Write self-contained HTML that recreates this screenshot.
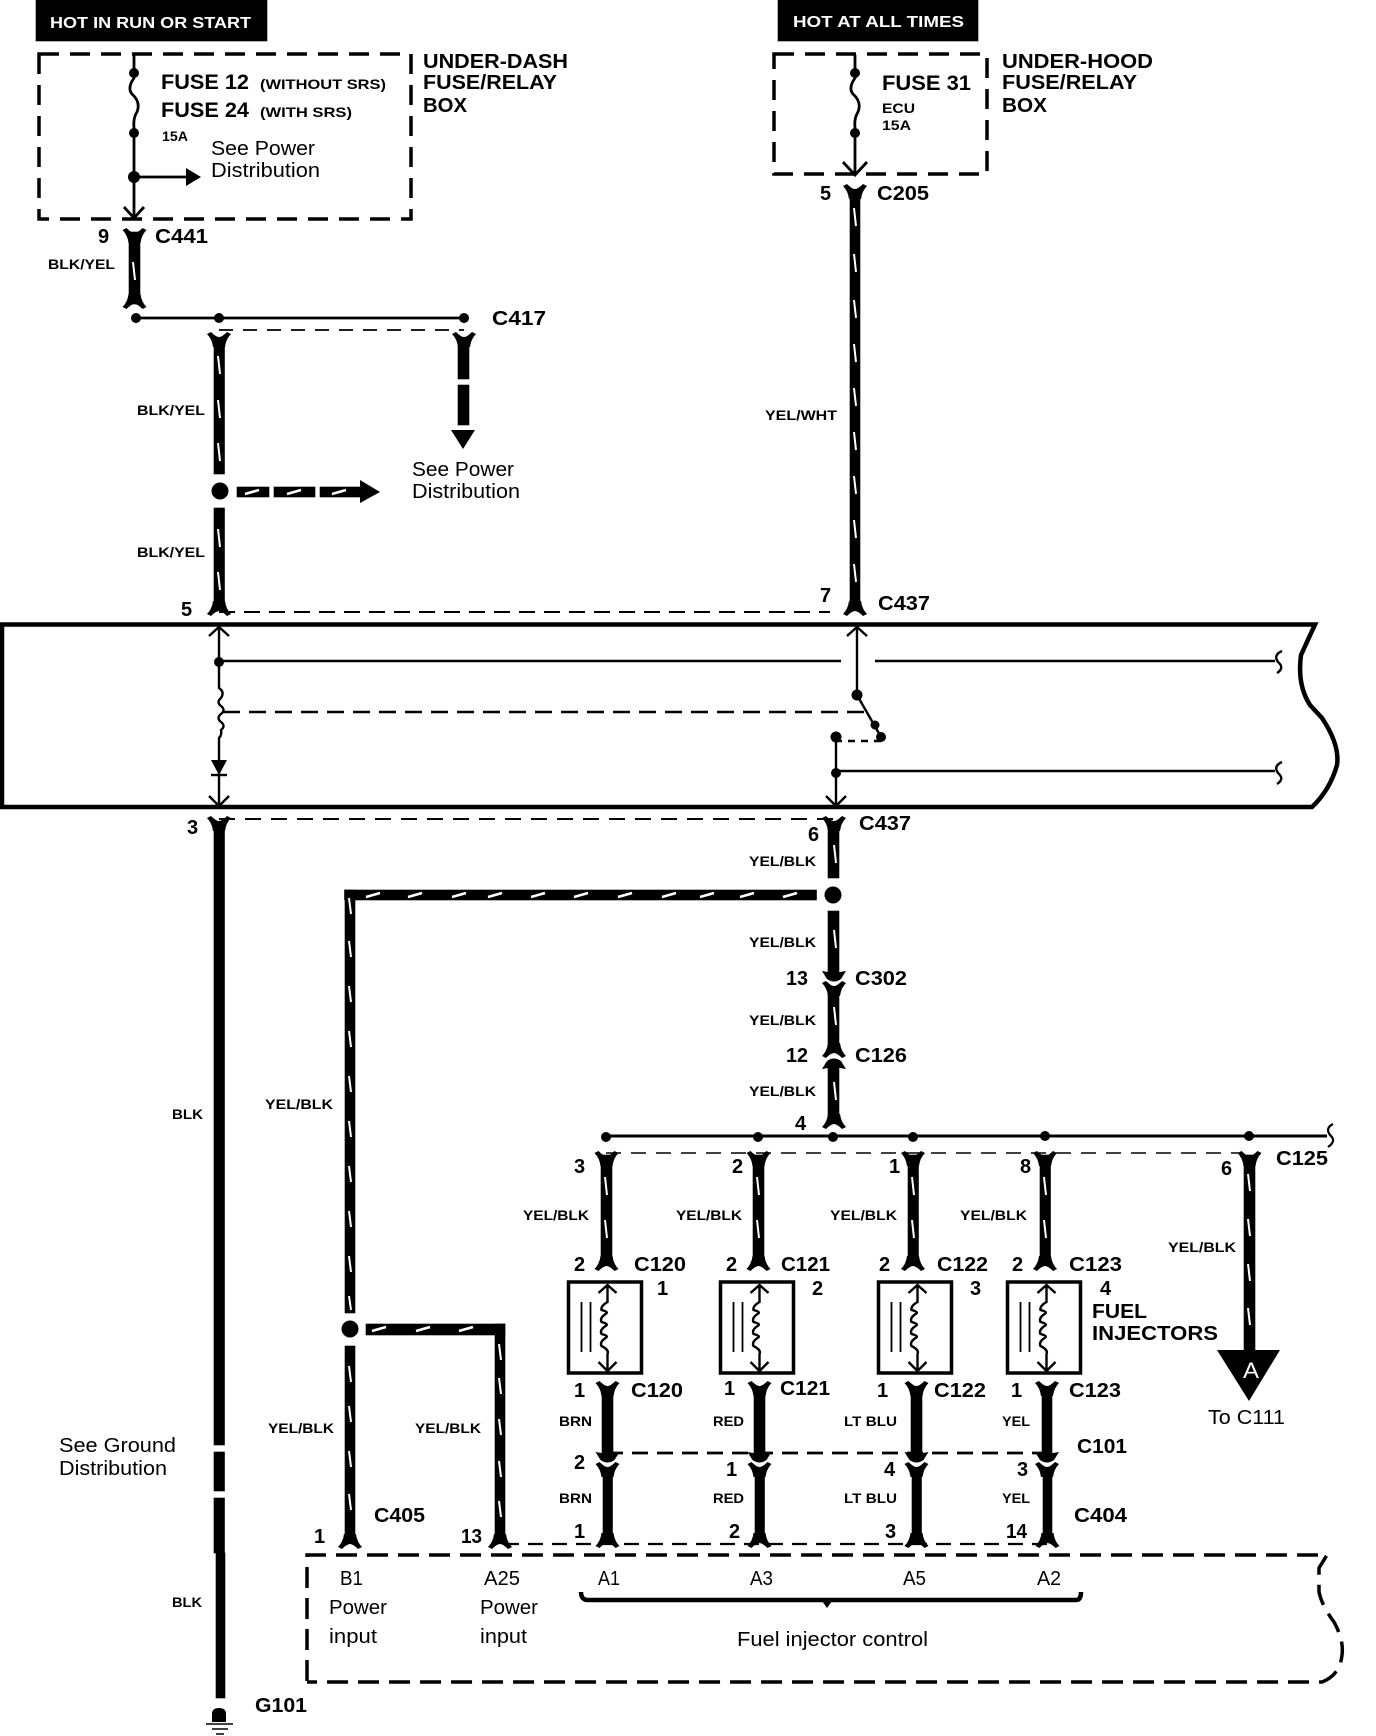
<!DOCTYPE html>
<html>
<head>
<meta charset="utf-8">
<style>
html,body{margin:0;padding:0;background:#fff;width:1376px;height:1736px;overflow:hidden}
svg{display:block}
text{font-family:"Liberation Sans",sans-serif;fill:#000}
rect:not([fill]){stroke:#000;stroke-width:.6}
.c{font-size:20px;font-weight:bold}
.w{font-size:14px;font-weight:bold}
.r{font-size:20px}
.h{font-size:20px;font-weight:bold}
.f{font-size:21px;font-weight:bold}
.s{font-size:14px;font-weight:bold}
.t{font-size:16px;font-weight:bold;fill:#fff}
</style>
</head>
<body>
<svg width="1376" height="1736" viewBox="0 0 1376 1736" xmlns="http://www.w3.org/2000/svg">
<defs>
<path id="ft" d="M-12 -2L-8 -4Q-3 1 0 1Q3 1 8 -4L12 -2Q7 3 6 11L-6 11Q-7 3 -12 -2Z"/>
<path id="fb" d="M-12 2L-8 4Q-3 -1 0 -1Q3 -1 8 4L12 2Q7 -3 6 -11L-6 -11Q-7 -3 -12 2Z"/>
<path id="ad" d="M-12 -4L-6 -3L6 -3L12 -4L7 4Q0 9 -7 4Z"/>
<path id="au" d="M-12 4L-6 3L6 3L12 4L7 -4Q0 -9 -7 -4Z"/>
<g id="inj">
<rect x="-39" y="0" width="73" height="91" fill="#fff" stroke="#000" stroke-width="3.5"/>
<path d="M-26 20V70M-17 20V70" stroke="#000" stroke-width="1.8" fill="none"/>
<path d="M0 3V20Q-7 24 -6 28Q2 30 -2 32Q-8 36 -6 40Q2 42 -2 44Q-8 48 -6 52Q2 54 -2 56Q-8 60 -6 64Q2 68 0 72V89M-9 11L0 3L9 11M-9 80L0 89L9 80" fill="none" stroke="#000" stroke-width="2.4"/>
</g>
</defs>

<!-- header tags -->
<rect x="36" y="0" width="231" height="41"/>
<rect x="778" y="0" width="200" height="41"/>
<text x="50" y="28" class="t" textLength="201" lengthAdjust="spacingAndGlyphs">HOT IN RUN OR START</text>
<text x="793" y="27" class="t" textLength="171" lengthAdjust="spacingAndGlyphs">HOT AT ALL TIMES</text>

<!-- fuse boxes -->
<rect x="39" y="54" width="372" height="165" fill="none" stroke="#000" stroke-width="3.5" stroke-dasharray="20 11"/>
<rect x="774" y="54" width="213" height="120" fill="none" stroke="#000" stroke-width="3.5" stroke-dasharray="20 11"/>
<g fill="none" stroke="#000" stroke-width="2.8">
<path d="M134 55V78Q127 88 132 94Q141 102 137 112Q133 118 134 128V218M124 207L134 218L144 207"/>
<path d="M134 177H188"/>
<path d="M855 55V78Q848 88 853 94Q862 102 858 112Q854 118 855 128V174M843 162L855 175L867 162"/>
</g>
<circle cx="134" cy="73" r="5"/><circle cx="134" cy="133" r="5"/><circle cx="134" cy="177" r="6"/>
<circle cx="855" cy="73" r="5"/><circle cx="855" cy="133" r="5"/>
<path d="M186 168L201 177L186 186Z"/>

<text x="161" y="89" class="f" textLength="88" lengthAdjust="spacingAndGlyphs">FUSE 12</text>
<text x="260" y="89" class="s" textLength="126" lengthAdjust="spacingAndGlyphs">(WITHOUT SRS)</text>
<text x="161" y="117" class="f" textLength="88" lengthAdjust="spacingAndGlyphs">FUSE 24</text>
<text x="260" y="117" class="s" textLength="92" lengthAdjust="spacingAndGlyphs">(WITH SRS)</text>
<text x="162" y="141" class="s" textLength="26" lengthAdjust="spacingAndGlyphs">15A</text>
<text x="211" y="155" class="r" textLength="104" lengthAdjust="spacingAndGlyphs">See Power</text>
<text x="211" y="177" class="r" textLength="109" lengthAdjust="spacingAndGlyphs">Distribution</text>
<text x="423" y="68" class="h" textLength="145" lengthAdjust="spacingAndGlyphs">UNDER-DASH</text>
<text x="423" y="89" class="h" textLength="134" lengthAdjust="spacingAndGlyphs">FUSE/RELAY</text>
<text x="423" y="112" class="h" textLength="44" lengthAdjust="spacingAndGlyphs">BOX</text>

<text x="882" y="90" class="f" textLength="89" lengthAdjust="spacingAndGlyphs">FUSE 31</text>
<text x="882" y="113" class="s" textLength="33" lengthAdjust="spacingAndGlyphs">ECU</text>
<text x="882" y="130" class="s" textLength="29" lengthAdjust="spacingAndGlyphs">15A</text>
<text x="1002" y="68" class="h" textLength="151" lengthAdjust="spacingAndGlyphs">UNDER-HOOD</text>
<text x="1002" y="89" class="h" textLength="135" lengthAdjust="spacingAndGlyphs">FUSE/RELAY</text>
<text x="1002" y="112" class="h" textLength="45" lengthAdjust="spacingAndGlyphs">BOX</text>

<!-- upper wires -->
<rect x="129" y="232" width="11" height="72"/>
<use href="#ft" x="134.5" y="232"/><use href="#fb" x="134.5" y="305"/>
<rect x="850" y="190" width="10" height="420"/>
<use href="#ft" x="855" y="188"/><use href="#fb" x="855" y="612"/>
<path d="M136 318H464" stroke="#000" stroke-width="2.8"/>
<circle cx="136" cy="318" r="5"/><circle cx="219" cy="318" r="5"/><circle cx="464" cy="318" r="5"/>
<path d="M219 330H464" stroke="#000" stroke-width="1.8" stroke-dasharray="14 10" fill="none"/>
<rect x="214" y="338" width="10.5" height="136"/>
<use href="#ft" x="219" y="336"/>
<circle cx="220" cy="491" r="8.5"/>
<rect x="214" y="508" width="10.5" height="100"/>
<use href="#fb" x="219" y="612"/>
<rect x="458" y="338" width="11" height="41"/><rect x="458" y="385" width="11" height="40"/>
<use href="#ft" x="464" y="336"/>
<path d="M451 430H475L463 449Z"/>
<rect x="237" y="487" width="32" height="10"/><rect x="274" y="487" width="41" height="10"/><rect x="320" y="487" width="40" height="10"/>
<path d="M360 480L380 492L360 503Z"/>
<path d="M219 612H830" stroke="#000" stroke-width="2" stroke-dasharray="16 9" fill="none"/>

<text x="98" y="243" class="c">9</text>
<text x="155" y="243" class="c" textLength="53" lengthAdjust="spacingAndGlyphs">C441</text>
<text x="48" y="269" class="w" textLength="67" lengthAdjust="spacingAndGlyphs">BLK/YEL</text>
<text x="492" y="325" class="c" textLength="54" lengthAdjust="spacingAndGlyphs">C417</text>
<text x="137" y="415" class="w" textLength="68" lengthAdjust="spacingAndGlyphs">BLK/YEL</text>
<text x="137" y="557" class="w" textLength="68" lengthAdjust="spacingAndGlyphs">BLK/YEL</text>
<text x="412" y="476" class="r" textLength="102" lengthAdjust="spacingAndGlyphs">See Power</text>
<text x="412" y="498" class="r" textLength="108" lengthAdjust="spacingAndGlyphs">Distribution</text>
<text x="181" y="616" class="c">5</text>
<text x="820" y="200" class="c">5</text>
<text x="877" y="200" class="c" textLength="52" lengthAdjust="spacingAndGlyphs">C205</text>
<text x="765" y="420" class="w" textLength="72" lengthAdjust="spacingAndGlyphs">YEL/WHT</text>
<text x="820" y="602" class="c">7</text>
<text x="878" y="610" class="c" textLength="52" lengthAdjust="spacingAndGlyphs">C437</text>

<!-- ECM main box -->
<path d="M2 624.5H1315L1301 655Q1297 685 1310 705L1322 718Q1340 745 1337 765Q1330 790 1312 807H2Z" fill="none" stroke="#000" stroke-width="4.5"/>
<g fill="none" stroke="#000" stroke-width="2.4">
<path d="M219 627V688Q225 692 221 698Q216 702 221 706Q226 710 221 714Q216 718 221 722Q226 726 221 730Q222 735 219 738V804"/>
<path d="M209 636L219 627L229 636M209 796L219 806L229 796"/>
<path d="M219 661H841M875 661H1275"/>
<path d="M857 627V695L881 737M847 636L857 627L867 636"/>
<path d="M1282 651Q1273 655 1278 662Q1285 668 1277 673"/>
<path d="M1282 762Q1273 766 1278 773Q1285 779 1277 784"/>
<path d="M836 737V804M826 796L836 806L846 796"/>
<path d="M836 771H1275"/>
<path d="M881 741H836" stroke-dasharray="7 6"/>
<path d="M223 712H864" stroke-dasharray="17 9"/>
<path d="M211 775H227"/>
</g>
<path d="M211 760H227L219 775Z"/>
<circle cx="219" cy="662" r="5"/><circle cx="857" cy="695" r="5.5"/><circle cx="875" cy="725" r="4.5"/><circle cx="881" cy="737" r="5"/><circle cx="836" cy="737" r="5.5"/><circle cx="836" cy="773" r="5"/>

<!-- below box -->
<rect x="214" y="825" width="10.5" height="620"/>
<use href="#ft" x="219" y="820"/>
<rect x="214" y="1452" width="10.5" height="39"/>
<rect x="214" y="1498" width="10.5" height="55"/>
<rect x="216" y="1553" width="9" height="145"/>
<path d="M212 1722V1714Q212 1708 219 1708Q226 1708 226 1714V1722Z"/>
<path d="M206 1724H233M212 1729H228M216 1734H224" stroke="#000" stroke-width="1.6"/>
<path d="M219 819H838" stroke="#000" stroke-width="2" stroke-dasharray="16 10" fill="none"/>
<text x="187" y="834" class="c">3</text>
<text x="859" y="830" class="c" textLength="52" lengthAdjust="spacingAndGlyphs">C437</text>
<text x="808" y="841" class="c">6</text>

<rect x="828" y="825" width="11" height="53"/>
<use href="#ft" x="834" y="820"/>
<circle cx="833" cy="895" r="8.5"/>
<rect x="828" y="911" width="11" height="62"/>
<use href="#ad" x="834" y="975"/>
<use href="#ft" x="834" y="985"/>
<rect x="828" y="990" width="11" height="58"/>
<use href="#fb" x="834" y="1054"/>
<use href="#au" x="834" y="1065"/>
<rect x="828" y="1062" width="11" height="58"/>
<use href="#fb" x="834" y="1125"/>

<rect x="344.500" y="890" width="472" height="10"/>
<rect x="345" y="890" width="10" height="423"/>
<circle cx="350" cy="1329" r="8.500"/>
<rect x="345" y="1346" width="10" height="194"/>
<use href="#fb" x="350" y="1545"/>
<rect x="366" y="1324" width="139" height="11"/>
<rect x="495" y="1324" width="10" height="216"/>
<use href="#fb" x="500" y="1545"/>

<text x="172" y="1119" class="w" textLength="31" lengthAdjust="spacingAndGlyphs">BLK</text>
<text x="172" y="1607" class="w" textLength="30" lengthAdjust="spacingAndGlyphs">BLK</text>
<text x="59" y="1452" class="r" textLength="117" lengthAdjust="spacingAndGlyphs">See Ground</text>
<text x="59" y="1475" class="r" textLength="108" lengthAdjust="spacingAndGlyphs">Distribution</text>
<text x="255" y="1712" class="c" textLength="52" lengthAdjust="spacingAndGlyphs">G101</text>
<text x="265" y="1109" class="w" textLength="68" lengthAdjust="spacingAndGlyphs">YEL/BLK</text>
<text x="268" y="1433" class="w" textLength="66" lengthAdjust="spacingAndGlyphs">YEL/BLK</text>
<text x="415" y="1433" class="w" textLength="66" lengthAdjust="spacingAndGlyphs">YEL/BLK</text>
<text x="374" y="1522" class="c" textLength="51" lengthAdjust="spacingAndGlyphs">C405</text>
<text x="314" y="1543" class="c">1</text>
<text x="461" y="1543" class="c" textLength="21" lengthAdjust="spacingAndGlyphs">13</text>

<text x="749" y="866" class="w" textLength="67" lengthAdjust="spacingAndGlyphs">YEL/BLK</text>
<text x="749" y="947" class="w" textLength="67" lengthAdjust="spacingAndGlyphs">YEL/BLK</text>
<text x="749" y="1025" class="w" textLength="67" lengthAdjust="spacingAndGlyphs">YEL/BLK</text>
<text x="749" y="1096" class="w" textLength="67" lengthAdjust="spacingAndGlyphs">YEL/BLK</text>
<text x="786" y="985" class="c" textLength="22" lengthAdjust="spacingAndGlyphs">13</text>
<text x="855" y="985" class="c" textLength="52" lengthAdjust="spacingAndGlyphs">C302</text>
<text x="786" y="1062" class="c" textLength="22" lengthAdjust="spacingAndGlyphs">12</text>
<text x="855" y="1062" class="c" textLength="52" lengthAdjust="spacingAndGlyphs">C126</text>
<text x="795" y="1130" class="c">4</text>

<!-- injector bus -->
<path d="M606 1136H1327" stroke="#000" stroke-width="3"/>
<path d="M1333 1124Q1325 1128 1330 1135Q1337 1141 1328 1147" fill="none" stroke="#000" stroke-width="2.2"/>
<circle cx="606" cy="1137" r="5"/><circle cx="758" cy="1137" r="5"/><circle cx="833" cy="1137" r="5"/><circle cx="913" cy="1137" r="5"/><circle cx="1045" cy="1136" r="5"/><circle cx="1249" cy="1136" r="5"/>
<path d="M606 1153H1240" stroke="#000" stroke-width="1.6" stroke-dasharray="15 10" fill="none"/>

<g>
<rect x="601" y="1155" width="11" height="108"/><use href="#ft" x="606.500" y="1155"/><use href="#fb" x="606.500" y="1267"/>
<rect x="753" y="1155" width="11" height="108"/><use href="#ft" x="758.500" y="1155"/><use href="#fb" x="758.500" y="1267"/>
<rect x="908" y="1155" width="10.500" height="108"/><use href="#ft" x="913" y="1155"/><use href="#fb" x="913" y="1267"/>
<rect x="1040" y="1155" width="10.500" height="108"/><use href="#ft" x="1045" y="1155"/><use href="#fb" x="1045" y="1267"/>
<rect x="1244" y="1155" width="11" height="196"/><use href="#ft" x="1249.500" y="1155"/>
</g>
<path d="M1217 1350H1280L1249 1401Z"/>
<text x="1243" y="1378" font-size="22" style="fill:#fff" textLength="16" lengthAdjust="spacingAndGlyphs">A</text>
<text x="1208" y="1424" class="r" textLength="77" lengthAdjust="spacingAndGlyphs">To C111</text>

<use href="#inj" x="607.500" y="1282"/>
<use href="#inj" x="759.500" y="1282"/>
<use href="#inj" x="917.500" y="1282"/>
<use href="#inj" x="1046.500" y="1282"/>

<text x="574" y="1173" class="c">3</text><text x="732" y="1173" class="c">2</text><text x="889" y="1173" class="c">1</text><text x="1020" y="1173" class="c">8</text><text x="1221" y="1175" class="c">6</text>
<text x="1276" y="1165" class="c" textLength="52" lengthAdjust="spacingAndGlyphs">C125</text>
<text x="523" y="1220" class="w" textLength="66" lengthAdjust="spacingAndGlyphs">YEL/BLK</text>
<text x="676" y="1220" class="w" textLength="66" lengthAdjust="spacingAndGlyphs">YEL/BLK</text>
<text x="830" y="1220" class="w" textLength="67" lengthAdjust="spacingAndGlyphs">YEL/BLK</text>
<text x="960" y="1220" class="w" textLength="67" lengthAdjust="spacingAndGlyphs">YEL/BLK</text>
<text x="1168" y="1252" class="w" textLength="68" lengthAdjust="spacingAndGlyphs">YEL/BLK</text>

<text x="574" y="1271" class="c">2</text><text x="726" y="1271" class="c">2</text><text x="879" y="1271" class="c">2</text><text x="1012" y="1271" class="c">2</text>
<text x="634" y="1271" class="c" textLength="52" lengthAdjust="spacingAndGlyphs">C120</text>
<text x="781" y="1271" class="c" textLength="49" lengthAdjust="spacingAndGlyphs">C121</text>
<text x="937" y="1271" class="c" textLength="51" lengthAdjust="spacingAndGlyphs">C122</text>
<text x="1069" y="1271" class="c" textLength="53" lengthAdjust="spacingAndGlyphs">C123</text>
<text x="657" y="1295" class="c">1</text><text x="812" y="1295" class="c">2</text><text x="970" y="1295" class="c">3</text><text x="1100" y="1295" class="c">4</text>
<text x="1092" y="1318" class="h" textLength="55" lengthAdjust="spacingAndGlyphs">FUEL</text>
<text x="1092" y="1340" class="h" textLength="126" lengthAdjust="spacingAndGlyphs">INJECTORS</text>

<!-- lower wires -->
<g>
<rect x="602" y="1388" width="11" height="65"/><use href="#ft" x="607.500" y="1385"/><use href="#ad" x="607.500" y="1456"/><use href="#ft" x="607.500" y="1466"/><rect x="603" y="1470" width="9.500" height="68"/><use href="#fb" x="607.500" y="1544"/>
<rect x="754" y="1388" width="11" height="65"/><use href="#ft" x="759.500" y="1385"/><use href="#ad" x="759.500" y="1456"/><use href="#ft" x="759.500" y="1466"/><rect x="755" y="1470" width="9.500" height="68"/><use href="#fb" x="759.500" y="1544"/>
<rect x="911" y="1388" width="11" height="65"/><use href="#ft" x="916.500" y="1385"/><use href="#ad" x="916.500" y="1456"/><use href="#ft" x="916.500" y="1466"/><rect x="912" y="1470" width="9.500" height="68"/><use href="#fb" x="916.500" y="1544"/>
<rect x="1042" y="1388" width="10" height="65"/><use href="#ft" x="1047" y="1385"/><use href="#ad" x="1047" y="1456"/><use href="#ft" x="1047" y="1466"/><rect x="1043" y="1470" width="9" height="68"/><use href="#fb" x="1047.500" y="1544"/>
</g>
<path d="M607 1453H1047" stroke="#000" stroke-width="2.8" stroke-dasharray="16 9" fill="none"/>
<path d="M504 1544H1047" stroke="#000" stroke-width="2.2" stroke-dasharray="15 9" fill="none"/>

<text x="574" y="1397" class="c">1</text><text x="724" y="1395" class="c">1</text><text x="877" y="1397" class="c">1</text><text x="1011" y="1397" class="c">1</text>
<text x="631" y="1397" class="c" textLength="52" lengthAdjust="spacingAndGlyphs">C120</text>
<text x="780" y="1395" class="c" textLength="50" lengthAdjust="spacingAndGlyphs">C121</text>
<text x="934" y="1397" class="c" textLength="52" lengthAdjust="spacingAndGlyphs">C122</text>
<text x="1069" y="1397" class="c" textLength="52" lengthAdjust="spacingAndGlyphs">C123</text>
<text x="559" y="1426" class="w" textLength="33" lengthAdjust="spacingAndGlyphs">BRN</text>
<text x="713" y="1426" class="w" textLength="31" lengthAdjust="spacingAndGlyphs">RED</text>
<text x="844" y="1426" class="w" textLength="53" lengthAdjust="spacingAndGlyphs">LT BLU</text>
<text x="1002" y="1426" class="w" textLength="28" lengthAdjust="spacingAndGlyphs">YEL</text>
<text x="1077" y="1453" class="c" textLength="50" lengthAdjust="spacingAndGlyphs">C101</text>
<text x="574" y="1469" class="c">2</text><text x="726" y="1476" class="c">1</text><text x="884" y="1476" class="c">4</text><text x="1017" y="1476" class="c">3</text>
<text x="559" y="1503" class="w" textLength="33" lengthAdjust="spacingAndGlyphs">BRN</text>
<text x="713" y="1503" class="w" textLength="31" lengthAdjust="spacingAndGlyphs">RED</text>
<text x="844" y="1503" class="w" textLength="53" lengthAdjust="spacingAndGlyphs">LT BLU</text>
<text x="1002" y="1503" class="w" textLength="28" lengthAdjust="spacingAndGlyphs">YEL</text>
<text x="1074" y="1522" class="c" textLength="53" lengthAdjust="spacingAndGlyphs">C404</text>
<text x="574" y="1538" class="c">1</text><text x="729" y="1538" class="c">2</text><text x="885" y="1538" class="c">3</text>
<text x="1006" y="1538" class="c" textLength="21" lengthAdjust="spacingAndGlyphs">14</text>

<!-- ECM lower box -->
<path d="M307 1681V1555H1327L1319 1568V1592Q1322 1606 1334 1622Q1344 1640 1342 1655Q1340 1675 1322 1682H307" fill="none" stroke="#000" stroke-width="3.5" stroke-dasharray="21 10"/>
<text x="340" y="1585" class="r" textLength="23" lengthAdjust="spacingAndGlyphs">B1</text>
<text x="484" y="1585" class="r" textLength="36" lengthAdjust="spacingAndGlyphs">A25</text>
<text x="598" y="1585" class="r" textLength="22" lengthAdjust="spacingAndGlyphs">A1</text>
<text x="750" y="1585" class="r" textLength="23" lengthAdjust="spacingAndGlyphs">A3</text>
<text x="903" y="1585" class="r" textLength="23" lengthAdjust="spacingAndGlyphs">A5</text>
<text x="1037" y="1585" class="r" textLength="24" lengthAdjust="spacingAndGlyphs">A2</text>
<text x="329" y="1614" class="r" textLength="58" lengthAdjust="spacingAndGlyphs">Power</text>
<text x="329" y="1643" class="r" textLength="48" lengthAdjust="spacingAndGlyphs">input</text>
<text x="480" y="1614" class="r" textLength="58" lengthAdjust="spacingAndGlyphs">Power</text>
<text x="480" y="1643" class="r" textLength="47" lengthAdjust="spacingAndGlyphs">input</text>
<path d="M581 1592Q581 1600 588 1600H1076Q1081 1600 1081 1592" fill="none" stroke="#000" stroke-width="4.500"/>
<path d="M822 1601H832L827 1608Z"/>
<text x="737" y="1646" class="r" textLength="191" lengthAdjust="spacingAndGlyphs">Fuel injector control</text>

<!-- wire tracer marks -->
<path fill="none" stroke="#fff" stroke-width="2" d="
M133 262l2 18
M218 356l2 18M218 400l2 18M218 443l2 18M218 529l2 18M218 572l2 18
M854 208l2 18M854 254l2 18M854 300l2 18M854 344l2 18M854 388l2 18M854 432l2 18M854 476l2 18M854 520l2 18M854 564l2 18
M834 845l2 18M834 930l2 18M834 1007l2 18M834 1082l2 18
M349 898l2 16M349 941l2 16M349 986l2 16M349 1031l2 16M349 1076l2 16M349 1121l2 16M349 1166l2 16M349 1211l2 16M349 1256l2 16M349 1296l2 14M349 1366l2 16M349 1406l2 16M349 1451l2 16M349 1494l2 16
M499 1344l2 16M499 1378l2 16M499 1419l2 16M499 1461l2 16M499 1501l2 16
M605 1177l2 18M605 1220l2 18
M757 1177l2 18M757 1220l2 18
M912 1177l2 18M912 1220l2 18
M1044 1177l2 18M1044 1220l2 18
M1248 1174l2 17M1248 1219l2 17M1248 1264l2 17M1248 1308l2 17
"/>
<path fill="none" stroke="#fff" stroke-width="2.6" d="
M245 494l14 -4M287 494l14 -4M332 494l14 -4
M366 897l14 -4M408 897l14 -4M452 897l14 -4M488 897l14 -4M531 897l14 -4M574 897l14 -4M618 897l14 -4M662 897l14 -4M700 897l14 -4M740 897l14 -4M783 897l14 -4
M372 1331l14 -4M416 1331l14 -4M459 1331l14 -4
"/>
</svg>
</body>
</html>
